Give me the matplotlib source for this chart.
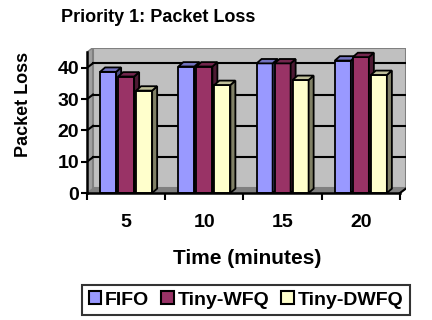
import matplotlib
matplotlib.use("Agg")
import matplotlib.pyplot as plt
from matplotlib.patches import Polygon, Patch
import numpy as np

plt.rcParams["font.family"] = ["Liberation Sans", "DejaVu Sans"]
plt.rcParams["font.weight"] = "bold"

minutes = ["5", "10", "15", "20"]
series = ["FIFO", "Tiny-WFQ", "Tiny-DWFQ"]
fifo = [38.7, 40.4, 41.4, 42.3]
tiny_wfq = [37.2, 40.4, 41.4, 43.4]
tiny_dwfq = [32.7, 34.5, 36.1, 37.7]
colors = ["#9999FF", "#993366", "#FFFFCC"]
y_ticks = [0, 10, 20, 30, 40]
y_max = 45

# depth of the 3d box (wall) and of the bars, in data units
ox, oy = 0.077, 1.44
bx, by = 0.064, 1.4
bar_w = 0.205
bar_step = 0.23


def shade(c, f):
    r, g, b = matplotlib.colors.to_rgb(c)
    return (r * f, g * f, b * f)


fig = plt.figure(figsize=(4.32, 3.2), dpi=100)
ax = fig.add_axes([87 / 432, 127 / 320, 319 / 432, 145.4 / 320])
n = len(minutes)
ax.set_xlim(-0.5, n - 0.5 + ox)
ax.set_ylim(0, y_max + oy)

# floor, side wall and back wall
floor = Polygon([(-0.5, 0), (n - 0.5, 0), (n - 0.5 + ox, oy), (-0.5 + ox, oy)],
                closed=True, fc="#808080", ec="#808080", lw=1)
side = Polygon([(-0.5, 0), (-0.5 + ox, oy), (-0.5 + ox, y_max + oy), (-0.5, y_max)],
               closed=True, fc="#A0A0A0", ec="#808080", lw=1)
wall = Polygon([(-0.5 + ox, oy), (n - 0.5 + ox, oy), (n - 0.5 + ox, y_max + oy),
                (-0.5 + ox, y_max + oy)], closed=True, fc="#C0C0C0", ec="#808080", lw=1.5)
for p in (floor, side, wall):
    ax.add_patch(p)

for v in y_ticks[1:]:
    ax.plot([-0.5 + ox, n - 0.5 + ox], [v + oy, v + oy], color="black", lw=1.5, zorder=2)
    ax.plot([-0.5, -0.5 + ox], [v, v + oy], color="black", lw=1.5, zorder=2)
ax.plot([n - 0.5, n - 0.5 + ox], [0, oy], color="black", lw=1.5, zorder=2)

x = np.arange(n)
for k, (name, vals) in enumerate(zip(series, [fifo, tiny_wfq, tiny_dwfq])):
    xs = x + (k - 1) * bar_step
    col = colors[k]
    ax.bar(xs, vals, bar_w, color=col, edgecolor="black", lw=1.3, zorder=4 + k)
    for xc, v in zip(xs, vals):
        r = xc + bar_w / 2
        l = xc - bar_w / 2
        ax.add_patch(Polygon([(r, 0), (r + bx, by), (r + bx, v + by), (r, v)],
                             closed=True, fc=shade(col, 0.5), ec="black", lw=1.3, zorder=4 + k))
        ax.add_patch(Polygon([(l, v), (r, v), (r + bx, v + by), (l + bx, v + by)],
                             closed=True, fc=shade(col, 0.75), ec="black", lw=1.3, zorder=4 + k))

for s in ["top", "right"]:
    ax.spines[s].set_visible(False)
ax.spines["left"].set_bounds(0, y_max)
ax.spines["bottom"].set_bounds(-0.5, n - 0.5)
for s in ["left", "bottom"]:
    ax.spines[s].set_linewidth(1.8)
    ax.spines[s].set_zorder(10)

ax.set_yticks(y_ticks)
ax.set_yticklabels([str(v) for v in y_ticks], fontsize=14, fontweight="bold")
ax.tick_params(axis="y", direction="out", length=4, width=1.5, pad=1.5)
ax.set_xticks(x)
ax.set_xticklabels(minutes, fontsize=14, fontweight="bold")
ax.tick_params(axis="x", which="major", length=0, pad=15)
ax.set_xticks(np.arange(n + 1) - 0.5, minor=True)
ax.tick_params(axis="x", which="minor", direction="out", length=5, width=1.5)

fig.text(158 / 432, 1 - 18 / 320, "Priority 1: Packet Loss", ha="center", va="center",
         fontsize=13, fontweight="bold")
fig.text(24 / 432, 1 - 104 / 320, "Packet Loss", ha="center", va="center", rotation=90,
         fontsize=13, fontweight="bold")
fig.text(247 / 432, 1 - 258 / 320, "Time (minutes)", ha="center", va="center",
         fontsize=15, fontweight="bold")

handles = [Patch(fc=c, ec="black", lw=1.5) for c in colors]
leg = fig.legend(handles, series, loc="center", bbox_to_anchor=(246 / 432, 1 - 300 / 320),
                 ncol=3, frameon=True, fancybox=False,
                 handlelength=0.65, handleheight=0.65, handletextpad=0.2,
                 columnspacing=0.6, borderpad=0.35, prop={"weight": "bold", "size": 14})
leg.get_frame().set_edgecolor("black")
leg.get_frame().set_linewidth(1.5)

fig.savefig("out.png", dpi=100)
